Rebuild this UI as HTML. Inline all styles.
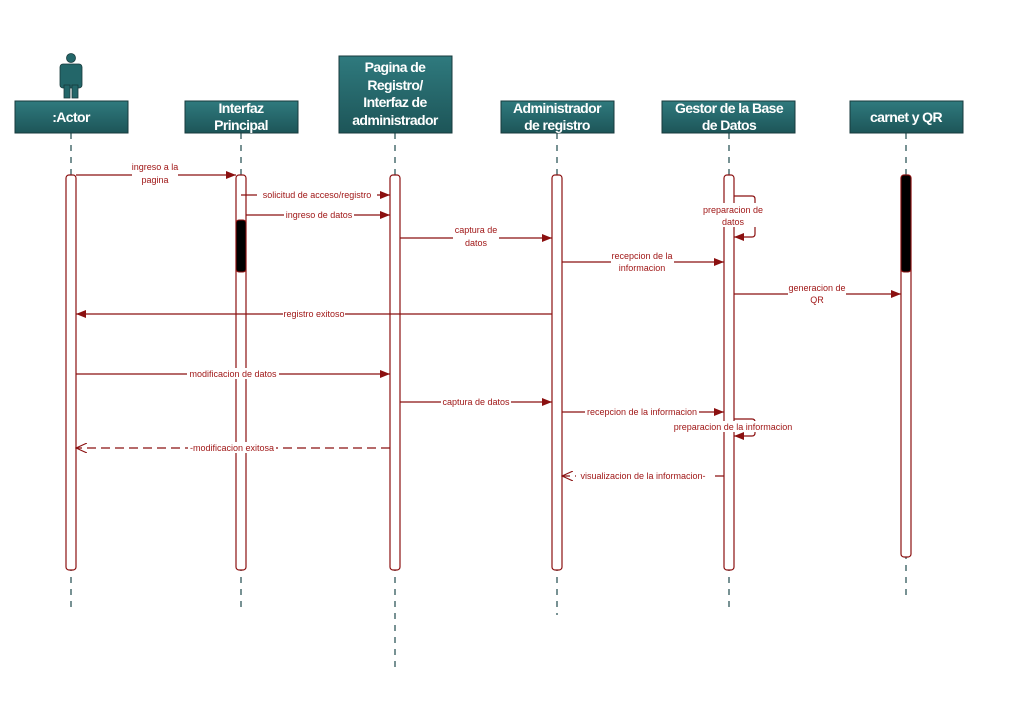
<!DOCTYPE html>
<html><head><meta charset="utf-8"><style>
body{margin:0;background:#fff;width:1028px;height:705px;overflow:hidden}
svg{display:block}
.h{font-family:"Liberation Sans",sans-serif;font-weight:bold;font-size:14px;fill:#fff;text-anchor:middle;letter-spacing:-0.6px}
.m{font-family:"Liberation Sans",sans-serif;font-size:9px;fill:#a01818;text-anchor:middle}
.ln{stroke:#8b1010;stroke-width:1.2;fill:none}
.ll{stroke:#1e4a4d;stroke-width:1.2;stroke-dasharray:6,6}
.act{fill:#fff;stroke:#8b1010;stroke-width:1.2}
.bx{fill:url(#g);stroke:#173a3c;stroke-width:1}
.lb{fill:#fff}
</style></head><body>
<svg width="1028" height="705" viewBox="0 0 1028 705">
<defs>
<linearGradient id="g" x1="0" y1="0" x2="0" y2="1"><stop offset="0" stop-color="#2f7a7e"/><stop offset="1" stop-color="#1d5558"/></linearGradient>
<marker id="f" markerWidth="10" markerHeight="8" refX="10" refY="4" orient="auto" markerUnits="userSpaceOnUse"><path d="M0,0L10,4L0,8z" fill="#8b1010"/></marker>
<marker id="o" markerWidth="12" markerHeight="10" refX="11" refY="5" orient="auto" markerUnits="userSpaceOnUse"><path d="M0,0L11,5L0,10" fill="none" stroke="#8b1010" stroke-width="1.1"/></marker>
</defs>
<g fill="#236669" stroke="#173a3c" stroke-width="0.8">
<circle cx="71" cy="58" r="4.5"/>
<rect x="60" y="64" width="22" height="24" rx="3"/>
<rect x="64" y="85" width="6" height="13"/><rect x="72" y="85" width="6" height="13"/>
</g>
<g>
<line class="ll" x1="71" y1="133" x2="71" y2="610"/>
<line class="ll" x1="241" y1="133" x2="241" y2="610"/>
<line class="ll" x1="395" y1="133" x2="395" y2="670"/>
<line class="ll" x1="557" y1="133" x2="557" y2="615"/>
<line class="ll" x1="729" y1="133" x2="729" y2="607"/>
<line class="ll" x1="906" y1="133" x2="906" y2="598"/>
</g>
<g><rect class="bx" x="15" y="101" width="113" height="32"/><text class="h" x="71" y="122">:Actor</text></g>
<g><rect class="bx" x="185" y="101" width="113" height="32"/><text class="h" x="241" y="113">Interfaz</text><text class="h" x="241" y="130">Principal</text></g>
<g><rect class="bx" x="339" y="56" width="113" height="77"/><text class="h" x="395" y="72">Pagina  de</text><text class="h" x="395" y="90">Registro/</text><text class="h" x="395" y="107">Interfaz de</text><text class="h" x="395" y="125">administrador</text></g>
<g><rect class="bx" x="501" y="101" width="113" height="32"/><text class="h" x="557" y="113">Administrador</text><text class="h" x="557" y="130">de registro</text></g>
<g><rect class="bx" x="662" y="101" width="133" height="32"/><text class="h" x="729" y="113">Gestor de la Base</text><text class="h" x="729" y="130">de Datos</text></g>
<g><rect class="bx" x="850" y="101" width="113" height="32"/><text class="h" x="906" y="122">carnet y QR</text></g>
<g>
<rect class="act" x="66" y="175" width="10" height="395" rx="3"/>
<rect class="act" x="236" y="175" width="10" height="395" rx="3"/>
<rect x="236" y="220" width="10" height="52" rx="3" fill="#000" stroke="#8b1010"/>
<rect class="act" x="390" y="175" width="10" height="395" rx="3"/>
<rect class="act" x="552" y="175" width="10" height="395" rx="3"/>
<rect class="act" x="724" y="175" width="10" height="395" rx="3"/>
<rect class="act" x="901" y="175" width="10" height="382" rx="3"/>
<rect x="901" y="175" width="10" height="97" rx="3" fill="#000" stroke="#8b1010"/>
</g>
<g>
<line class="ln" x1="76" y1="175" x2="236" y2="175" marker-end="url(#f)"/>
<rect class="lb" x="132" y="162" width="46" height="24"/><text class="m" x="155" y="170">ingreso a la</text><text class="m" x="155" y="183">pagina</text>
<line class="ln" x1="241" y1="195" x2="390" y2="195" marker-end="url(#f)"/>
<rect class="lb" x="257" y="189" width="120" height="11"/><text class="m" x="317" y="198">solicitud de  acceso/registro</text>
<line class="ln" x1="246" y1="215" x2="390" y2="215" marker-end="url(#f)"/>
<rect class="lb" x="284" y="209" width="70" height="11"/><text class="m" x="319" y="218">ingreso de datos</text>
<line class="ln" x1="400" y1="238" x2="552" y2="238" marker-end="url(#f)"/>
<rect class="lb" x="453" y="225" width="46" height="24"/><text class="m" x="476" y="233">captura de</text><text class="m" x="476" y="246">datos</text>
<path class="ln" d="M734,196H752Q755,196 755,199V234Q755,237 752,237H734" marker-end="url(#f)"/>
<rect class="lb" x="703" y="203" width="60" height="24"/><text class="m" x="733" y="213">preparacion de</text><text class="m" x="733" y="225">datos</text>
<line class="ln" x1="562" y1="262" x2="724" y2="262" marker-end="url(#f)"/>
<rect class="lb" x="611" y="250" width="63" height="24"/><text class="m" x="642" y="259">recepcion de la</text><text class="m" x="642" y="271">informacion</text>
<line class="ln" x1="734" y1="294" x2="901" y2="294" marker-end="url(#f)"/>
<rect class="lb" x="788" y="282" width="58" height="24"/><text class="m" x="817" y="291">generacion de</text><text class="m" x="817" y="303">QR</text>
<line class="ln" x1="552" y1="314" x2="76" y2="314" marker-end="url(#f)"/>
<rect class="lb" x="283" y="308" width="62" height="11"/><text class="m" x="314" y="317">registro exitoso</text>
<line class="ln" x1="76" y1="374" x2="390" y2="374" marker-end="url(#f)"/>
<rect class="lb" x="187" y="368" width="92" height="11"/><text class="m" x="233" y="377">modificacion de datos</text>
<line class="ln" x1="400" y1="402" x2="552" y2="402" marker-end="url(#f)"/>
<rect class="lb" x="441" y="396" width="70" height="11"/><text class="m" x="476" y="405">captura de datos</text>
<line class="ln" x1="562" y1="412" x2="724" y2="412" marker-end="url(#f)"/>
<rect class="lb" x="585" y="406" width="114" height="11"/><text class="m" x="642" y="415">recepcion de la informacion</text>
<path class="ln" d="M734,419H752Q755,419 755,422V433Q755,436 752,436H734" marker-end="url(#f)"/>
<rect class="lb" x="671" y="421" width="124" height="11"/><text class="m" x="733" y="430">preparacion de la informacion</text>
<line class="ln" x1="390" y1="448" x2="76" y2="448" stroke-dasharray="9,5" marker-end="url(#o)"/>
<rect class="lb" x="188" y="442" width="88" height="11"/><text class="m" x="232" y="451">-modificacion exitosa</text>
<line class="ln" x1="724" y1="476" x2="562" y2="476" stroke-dasharray="9,5" marker-end="url(#o)"/>
<rect class="lb" x="576" y="470" width="134" height="11"/><text class="m" x="643" y="479">visualizacion de la informacion-</text>
</g>
</svg>
</body></html>
